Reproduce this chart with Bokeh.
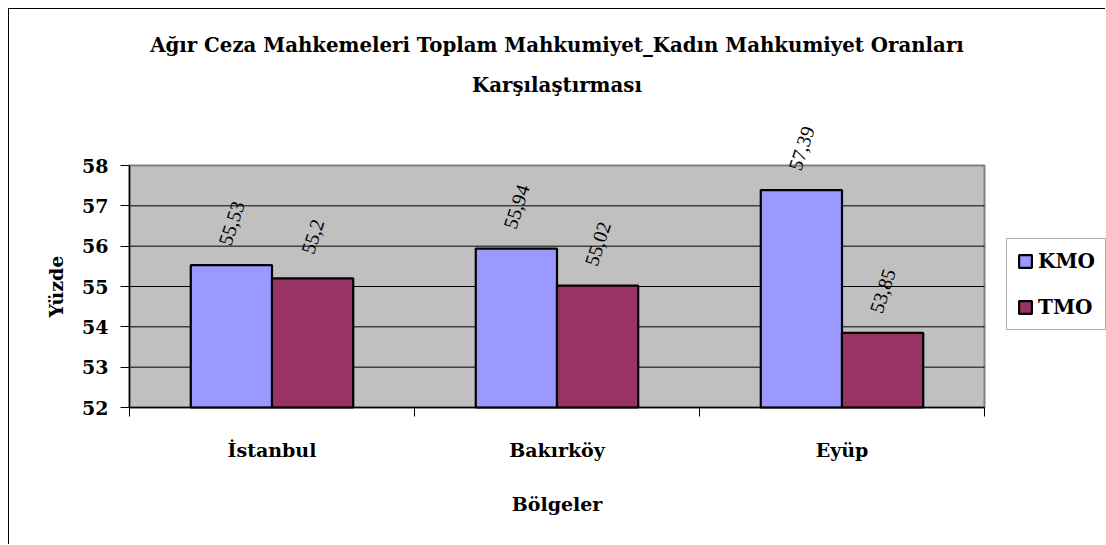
from bokeh.plotting import figure
from bokeh.models import ColumnDataSource, Legend, LegendItem, FixedTicker, Label, LabelSet
from bokeh.embed import file_html
from bokeh.resources import INLINE
import math

# ---- data ----
categories = ["İstanbul", "Bakırköy", "Eyüp"]
series_names = ["KMO", "TMO"]
kmo = [55.53, 55.94, 57.39]
tmo = [55.20, 55.02, 53.85]
y_ticks = [52, 53, 54, 55, 56, 57, 58]

title_line1 = "Ağır Ceza Mahkemeleri Toplam Mahkumiyet_Kadın Mahkumiyet Oranları"
title_line2 = "Karşılaştırması"
y_title = "Yüzde"
x_title = "Bölgeler"

colors = ["#9999FF", "#993366"]
SERIF = "DejaVu Serif"
SANS = "Liberation Sans"

n = len(categories)
y0, y1 = y_ticks[0], y_ticks[-1]

# ---- layout in pixels (canvas = drawing area) ----
CANVAS_W, CANVAS_H = 1097, 536
PLOT_LEFT, PLOT_TOP = 120, 156          # plot area corner inside the canvas
PLOT_W, PLOT_H = 855, 242               # plot area size
px_x = PLOT_W / n
px_y = PLOT_H / (y1 - y0)
x_start = -PLOT_LEFT / px_x
x_end = (CANVAS_W - PLOT_LEFT) / px_x
y_start = y0 - (CANVAS_H - PLOT_TOP - PLOT_H) / px_y
y_end = y1 + PLOT_TOP / px_y

p = figure(width=CANVAS_W, height=CANVAS_H,
           x_range=(x_start, x_end), y_range=(y_start, y_end),
           output_backend="svg", toolbar_location=None,
           min_border=0, min_border_left=0, min_border_right=0,
           min_border_top=0, min_border_bottom=0)
# outer chart box: top and left edges
p.styles = {"margin-left": "8px", "margin-top": "8px",
            "border-top": "1px solid #000", "border-left": "1px solid #000"}

p.background_fill_color = "white"
p.border_fill_color = "white"
p.outline_line_color = None

# grey plot area
p.quad(left=0, right=n, bottom=y0, top=y1, fill_color="#C0C0C0",
       line_color="#808080", line_width=2, level="image")
# horizontal gridlines
inner = y_ticks[1:-1]
p.segment(x0=[0] * len(inner), x1=[n] * len(inner), y0=inner, y1=inner,
          line_color="black", line_width=1, level="underlay")

# title (two lines)
for txt, off in [(title_line1, 121), (title_line2, 81)]:
    p.add_layout(Label(x=n / 2, y=y1, text=txt, y_offset=off,
                       text_align="center", text_baseline="middle",
                       text_font=SERIF, text_font_size="19.75px",
                       text_font_style="bold", text_color="black"))

# axis titles
p.add_layout(Label(x=0, y=(y0 + y1) / 2, text=y_title, x_offset=-74,
                   angle=math.pi / 2, text_align="center", text_baseline="middle",
                   text_font=SERIF, text_font_size="19px",
                   text_font_style="bold", text_color="black"))
p.add_layout(Label(x=n / 2, y=y0, text=x_title, y_offset=-96,
                   text_align="center", text_baseline="middle",
                   text_font=SERIF, text_font_size="19px",
                   text_font_style="bold", text_color="black"))

bar_w = 0.285
offsets = [-bar_w / 2, bar_w / 2]
renderers = []
for s, (name, vals) in enumerate(zip(series_names, [kmo, tmo])):
    src = ColumnDataSource(dict(
        x=[i + 0.5 + offsets[s] for i in range(n)],
        top=vals,
        lbl=[("%g" % v).replace(".", ",") for v in vals],
    ))
    r = p.vbar(x="x", top="top", bottom=y0, width=bar_w, source=src,
               fill_color=colors[s], line_color="black", line_width=2.2)
    renderers.append(r)
    p.add_layout(LabelSet(x="x", y="top", text="lbl", source=src,
                          angle=math.radians(72), y_offset=42,
                          text_align="center", text_baseline="middle",
                          text_font=SANS, text_font_size="20px",
                          text_color="black"))

# y axis (drawn at the plot area's left edge)
p.yaxis.fixed_location = 0
p.yaxis.bounds = (y0, y1)
p.yaxis.ticker = FixedTicker(ticks=y_ticks)
p.yaxis.major_label_text_font = SERIF
p.yaxis.major_label_text_font_size = "19px"
p.yaxis.major_label_text_font_style = "bold"
p.yaxis.major_label_text_color = "black"
p.yaxis.major_label_standoff = 12
p.yaxis.major_tick_out = 9
p.yaxis.major_tick_in = 0
p.yaxis.major_tick_line_color = "black"
p.yaxis.minor_tick_line_color = None
p.yaxis.axis_line_color = "black"
p.yaxis.axis_line_width = 1.5

# x axis: labels at centers, tick marks at category boundaries
p.xaxis.fixed_location = y0
p.xaxis.bounds = (0, n)
p.xaxis.ticker = FixedTicker(ticks=[i + 0.5 for i in range(n)],
                             minor_ticks=list(range(n + 1)))
p.xaxis.major_label_overrides = {i + 0.5: c for i, c in enumerate(categories)}
p.xaxis.major_tick_line_color = None
p.xaxis.minor_tick_out = 9
p.xaxis.minor_tick_in = 0
p.xaxis.minor_tick_line_color = "black"
p.xaxis.axis_line_color = "black"
p.xaxis.axis_line_width = 1.5
p.xaxis.major_label_text_font = SERIF
p.xaxis.major_label_text_font_size = "19px"
p.xaxis.major_label_text_font_style = "bold"
p.xaxis.major_label_text_color = "black"
p.xaxis.major_label_standoff = 22

p.xgrid.grid_line_color = None
p.ygrid.grid_line_color = None

# legend, to the right of the plot area
leg_left = PLOT_LEFT + PLOT_W + 22
leg_bottom = CANVAS_H - (PLOT_TOP + 165)
legend = Legend(items=[LegendItem(label=nm, renderers=[r]) for nm, r in zip(series_names, renderers)],
                location=(leg_left, leg_bottom), margin=0, padding=10, spacing=22,
                label_text_font=SERIF, label_text_font_size="20px", label_text_font_style="bold",
                label_text_color="black",
                glyph_width=16, glyph_height=16, label_standoff=5, label_height=22,
                border_line_color="#666666", border_line_width=1,
                background_fill_color="white")
p.add_layout(legend, "center")

open("out.html", "w").write(file_html(p, INLINE))
